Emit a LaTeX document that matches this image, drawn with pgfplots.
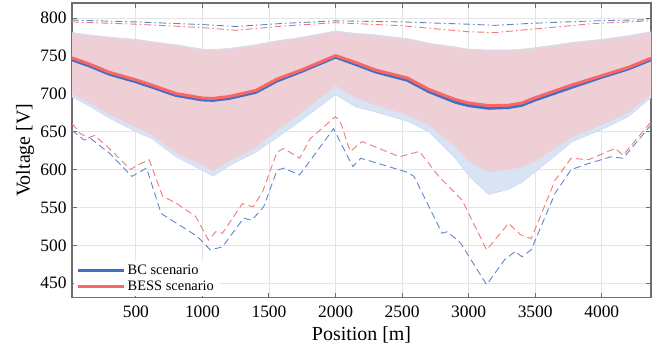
\documentclass[border=0pt]{standalone}
\usepackage{fontspec}
\setmainfont{Liberation Serif}
\usepackage{pgfplots}
\usepackage{pgfplotstable}
\pgfplotsset{compat=1.18}
\usepgfplotslibrary{fillbetween}

\definecolor{bcblue}{RGB}{64,110,196}
\definecolor{bessred}{RGB}{250,102,102}
\definecolor{bcdash}{RGB}{95,135,200}
\definecolor{bessdash}{RGB}{240,120,120}
\definecolor{pinkfill}{RGB}{238,207,214}
\definecolor{bluefill}{RGB}{216,227,243}
\definecolor{axgray}{RGB}{110,110,110}
\definecolor{gridgray}{RGB}{228,228,228}

% x, BC upper, BC lower, BESS upper, BESS lower, BC mean, BESS mean
\pgfplotstableread{
x bcup bclo rup rlo bcm rm
20 781 696 780 700 745 747.5
150 778 684 777 688 737 739.5
300 775 668 774 673 726 728.5
500 772 650 771 656 716 718.5
620 769 641 768 646 709 711.5
800 765 617 764 622 698 700.5
1000 759 599 758 606 692 694.5
1080 758.5 591.5 757.5 598.5 691.5 694
1200 760 605 759 611 694 696.5
1400 765 623 764 629 702 704.5
1560 770 642 769 652 717 719.5
1750 775 666 774 676 730 732
2000 783 699 782 711 748.5 750.5
2150 780 683 779 695 739 741.5
2300 778 676 777 685 729 731.5
2540 773 664 772 672 718 721
2700 767 650 766 659 703 706
2900 762 615 761 630 689 692.5
3000 759 592 758 611 684.5 688
3150 758 567 757 597 681 684.5
3300 758 574 757 600 682 685
3400 759 583 758 603 685 688
3500 761 597 760 611 692 695
3780 768 637 767 643 709 712
4000 772 653 771 659 722 724
4200 777 670 776 675 733 735
4370 782 695 781 699 745 747
}\bands

\pgfplotstableread{
x v
20 661
80 648
140 642
190 645
300 628
460 600
510 606
600 613
700 565
800 556
950 538
1045 507
1100 518
1150 516
1300 555
1380 551
1450 570
1560 623
1610 628
1730 615
1810 641
2000 670
2040 661
2110 624
2200 637
2480 617
2630 624
2780 590
2950 560
3135 494
3300 529
3390 514
3470 509
3650 586
3770 615
3900 613
4100 628
4160 619
4370 663
}\bessmin

\pgfplotstableread{
x v
20 652
110 639
160 641
300 622
470 591
580 602
690 542
960 512
1060 494
1150 498
1310 536
1370 533
1460 551
1560 599
1610 602
1730 593
1985 654
2130 604
2190 615
2530 597
2590 591
2800 516
2840 518
2940 503
3135 448
3270 481
3350 492
3400 485
3470 494
3650 569
3770 600
3900 608
4070 617
4160 615
4370 659
}\bcmin

\pgfplotstableread{
x v
20 797.5
500 795
1000 791.5
1250 789
1600 793
2000 796.5
2500 795
3000 792
3200 790.5
3450 793
3950 796.5
4370 798
}\bcmax

\pgfplotstableread{
x v
20 795
500 792
1000 787.5
1250 784
1600 789.5
2000 794
2500 790
3000 782
3200 781
3450 785
3950 793
4370 796.5
}\bessmax

\begin{document}
\begin{tikzpicture}
\begin{axis}[
  scale only axis,
  width=579bp, height=294.6bp,
  xmin=20, xmax=4370,
  ymin=431, ymax=820,
  xtick={500,1000,...,4000},
  ytick={450,500,...,800},
  /pgf/number format/assume math mode=true,
  /pgf/number format/1000 sep={},
  tick label style={font=\fontsize{17.5}{20}\selectfont},
  yticklabel style={xshift=-2bp},
  xticklabel style={yshift=-5bp},
  grid=major,
  major grid style={gridgray, line width=0.8bp},
  axis line style={axgray, line width=1.1bp},
  tick style={axgray, line width=1bp},
  major tick length=5bp,
  tick pos=both,
  tick align=inside,
  xlabel={Position [m]},
  ylabel={Voltage [V]},
  label style={font=\fontsize{20}{23}\selectfont},
  xlabel style={at={(axis description cs:0.5,-0.128)}, anchor=center},
  ylabel style={at={(axis description cs:-0.081,0.5)}, anchor=center},
  legend style={at={(axis description cs:0,0)}, anchor=south west, xshift=1.5bp, yshift=1.5bp,
    draw=none, fill=white,
    font=\fontsize{14.5}{17}\selectfont, inner xsep=3bp, inner ysep=2bp, row sep=1bp},
  legend cell align=left,
  legend image code/.code={\draw[#1] (0bp,0bp) -- (46bp,0bp);},
]
% bands
\addplot[name path=bu, draw=bcblue!25, line width=0.6bp, forget plot] table[x=x,y=bcup] {\bands};
\addplot[name path=bl, draw=bcblue!25, line width=0.6bp, forget plot] table[x=x,y=bclo] {\bands};
\addplot[bluefill, forget plot] fill between[of=bu and bl];
\addplot[name path=ru, draw=none, forget plot] table[x=x,y=rup] {\bands};
\addplot[name path=rl, draw=none, forget plot] table[x=x,y=rlo] {\bands};
\addplot[pinkfill, forget plot] fill between[of=ru and rl];
% max (dash-dot)
\addplot[bcdash, line width=0.9bp, dash pattern=on 7bp off 3bp on 1.5bp off 3bp, forget plot] table[x=x,y=v] {\bcmax};
\addplot[bessdash, line width=0.9bp, dash pattern=on 7bp off 3bp on 1.5bp off 3bp, forget plot] table[x=x,y=v] {\bessmax};
% min (dashed)
\addplot[bcdash, line width=0.9bp, dash pattern=on 7bp off 4bp, forget plot] table[x=x,y=v] {\bcmin};
\addplot[bessdash, line width=0.9bp, dash pattern=on 7bp off 4bp, forget plot] table[x=x,y=v] {\bessmin};
% means
\addplot[bcblue, line width=3bp] table[x=x,y=bcm] {\bands};
\addlegendentry{BC scenario}
\addplot[bessred, line width=3bp] table[x=x,y=rm] {\bands};
\addlegendentry{BESS scenario}
\end{axis}
\path ([xshift=-72bp,yshift=-58.4bp]current axis.south west) rectangle ([xshift=16bp,yshift=3bp]current axis.north east);
\end{tikzpicture}
\end{document}
